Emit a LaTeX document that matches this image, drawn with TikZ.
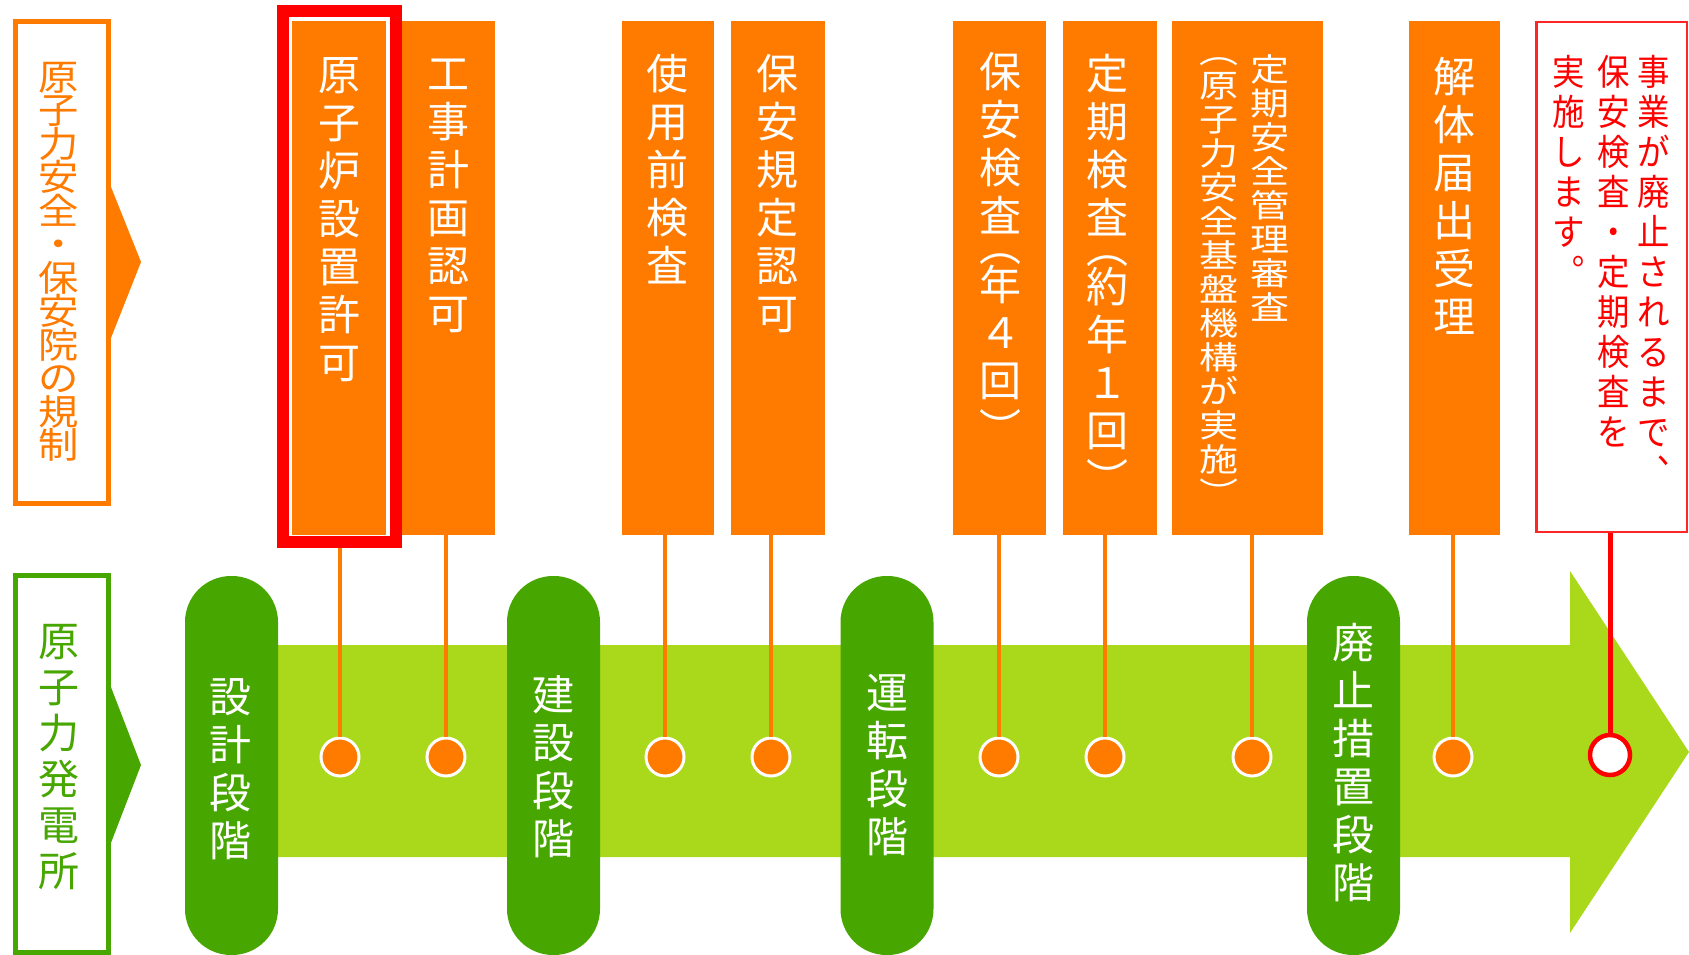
\documentclass[tikz,border=0pt]{standalone}
\usepackage{fontspec}
\newfontfamily\jp{Noto Sans CJK JP}
\newfontfamily\jpwide[FakeStretch=1.22]{Noto Sans CJK JP}
\newfontfamily\jplab[FakeStretch=1.12]{Noto Sans CJK JP}
\newfontfamily\jpnarrow[FakeStretch=0.9]{Noto Sans CJK JP}
\usetikzlibrary{calc}
\definecolor{og}{HTML}{FF7B00}
\definecolor{rd}{HTML}{FF0000}
\definecolor{dg}{HTML}{47A700}
\definecolor{lg}{HTML}{AAD81A}
\begin{document}
\lineskiplimit=-100pt\relax
\begin{tikzpicture}[x=1pt,y=-1pt,
 obox/.style={fill=og,inner sep=0pt,minimum height=514pt,anchor=north west},
 vt/.style={inner sep=0pt,align=center,anchor=north},
 fbig/.style={font=\jp\fontsize{42}{48}\selectfont},
 fsm/.style={font=\jpwide\fontsize{32}{34}\selectfont},
 fred/.style={font=\jpnarrow\fontsize{36}{40}\selectfont},
 flab/.style={font=\jplab\fontsize{36}{33.5}\selectfont},
 fgl/.style={font=\jp\fontsize{41}{46}\selectfont},
 pill/.style={fill=dg,rounded corners=46pt,minimum width=93pt,minimum height=379pt,inner sep=0pt},
 dot/.style={circle,fill=og,draw=white,line width=3pt,minimum size=38pt,inner sep=0pt},
 rdot/.style={circle,fill=white,draw=rd,line width=4.5pt,minimum size=40pt,inner sep=0pt},
 ol/.style={draw=og,line width=4pt},
 rl/.style={draw=rd,line width=5pt},
]
\useasboundingbox (0,0) rectangle (1689,955);

% big arrow
\fill[lg] (232,645) -- (1570,645) -- (1570,571) -- (1689,752) -- (1570,933) -- (1570,857) -- (232,857) -- cycle;

% phase pills
\node[pill] (p1) at (231.5,765.5) {};
\node[pill] (p2) at (553.5,765.5) {};
\node[pill] (p3) at (887,765.5) {};
\node[pill] (p4) at (1353.5,765.5) {};
\node[vt,fbig,text=white] (s1) at (230,678) {設\\計\\段\\階};
\node[vt,fbig,text=white] (s2) at (553,675) {建\\設\\段\\階};
\node[vt,fbig,text=white] (s3) at (887,674) {運\\転\\段\\階};
\node[vt,fbig,text=white] (s4) at (1353,623) {廃\\止\\措\\置\\段\\階};

% dots
\node[dot] (d1) at (340,757) {};
\node[dot] (d2) at (446,757) {};
\node[dot] (d3) at (665,757) {};
\node[dot] (d4) at (771,757) {};
\node[dot] (d5) at (999,757) {};
\node[dot] (d6) at (1105,757) {};
\node[dot] (d7) at (1252,757) {};
\node[dot] (d8) at (1453,757) {};
\node[rdot] (dr) at (1610,755) {};

% left labels
\node[draw=og,fill=white,line width=5pt,minimum width=93pt,minimum height=482pt,inner sep=0pt] (ltb) at (62,262.5) {};
\fill[og] (109,182) -- (141,262) -- (109,343) -- cycle;
\node[vt,flab,text=og] (lt) at (59,62) {原\\子\\力\\安\\全\\・\\保\\安\\院\\の\\規\\制};
\node[draw=dg,fill=white,line width=5pt,minimum width=93pt,minimum height=377pt,inner sep=0pt] (lbb) at (62,764) {};
\fill[dg] (109,682) -- (141,765) -- (109,848) -- cycle;
\node[vt,fgl,text=dg] (lb) at (59,624) {原\\子\\力\\発\\電\\所};

% top boxes
\node[draw=rd,fill=white,line width=12pt,minimum width=113pt,minimum height=531pt,inner sep=0pt] (rf) at (339.5,276.5) {};
\node[obox,minimum width=94pt] (b1) at (292,21) {};
\node[obox,minimum width=93pt] (b2) at (402,21) {};
\node[obox,minimum width=92pt] (b3) at (622,21) {};
\node[obox,minimum width=94pt] (b4) at (731,21) {};
\node[obox,minimum width=93pt] (b5) at (953,21) {};
\node[obox,minimum width=94pt] (b6) at (1063,21) {};
\node[obox,minimum width=151pt] (b7) at (1172,21) {};
\node[obox,minimum width=91pt] (b8) at (1409,21) {};
\node[draw=rd!85,fill=white,line width=2.5pt,minimum width=150.5pt,minimum height=509.5pt,inner sep=0pt] (rb) at (1611.5,277) {};

% texts
\node[vt,fbig,text=white] (t1) at (339,57) {原\\子\\炉\\設\\置\\許\\可};
\node[vt,fbig,text=white] (t2) at (448,59) {工\\事\\計\\画\\認\\可};
\node[vt,fbig,text=white] (t3) at (667,54) {使\\用\\前\\検\\査};
\node[vt,fbig,text=white] (t4) at (777,54) {保\\安\\規\\定\\認\\可};
\node[vt,fbig,text=white] (t5) at (1000,52) {保\\安\\検\\査\\[-18pt]︵\\[-9pt]年\\４\\回\\︶};
\node[vt,fbig,text=white] (t6) at (1107,54) {定\\期\\検\\査\\[-18pt]︵\\[-9pt]約\\年\\１\\回\\︶};
\node[vt,fsm,text=white] (t7a) at (1270,54) {定\\期\\安\\全\\管\\理\\審\\査};
\node[vt,fsm,text=white] (t7b) at (1219,57) {︵\\原\\子\\力\\安\\全\\基\\盤\\機\\構\\が\\実\\施\\︶};
\node[vt,fbig,text=white] (t8) at (1454,57) {解\\体\\届\\出\\受\\理};
\node[vt,fred,text=rd] (r1) at (1654,55) {事\\業\\が\\廃\\止\\さ\\れ\\る\\ま\\で\\︑};
\node[vt,fred,text=rd] (r2) at (1614,55) {保\\安\\検\\査\\・\\定\\期\\検\\査\\を};
\node[vt,fred,text=rd] (r3) at (1569,55) {実\\施\\し\\ま\\す\\︒};

% connectors
\draw[ol] (rf.south -| d1) -- (d1.north);
\draw[ol] (b2.south -| d2) -- (d2.north);
\draw[ol] (b3.south -| d3) -- (d3.north);
\draw[ol] (b4.south -| d4) -- (d4.north);
\draw[ol] (b5.south -| d5) -- (d5.north);
\draw[ol] (b6.south -| d6) -- (d6.north);
\draw[ol] (b7.south -| d7) -- (d7.north);
\draw[ol] (b8.south -| d8) -- (d8.north);
\draw[rl] (rb.south -| dr) -- (dr.north);
\end{tikzpicture}
\end{document}
